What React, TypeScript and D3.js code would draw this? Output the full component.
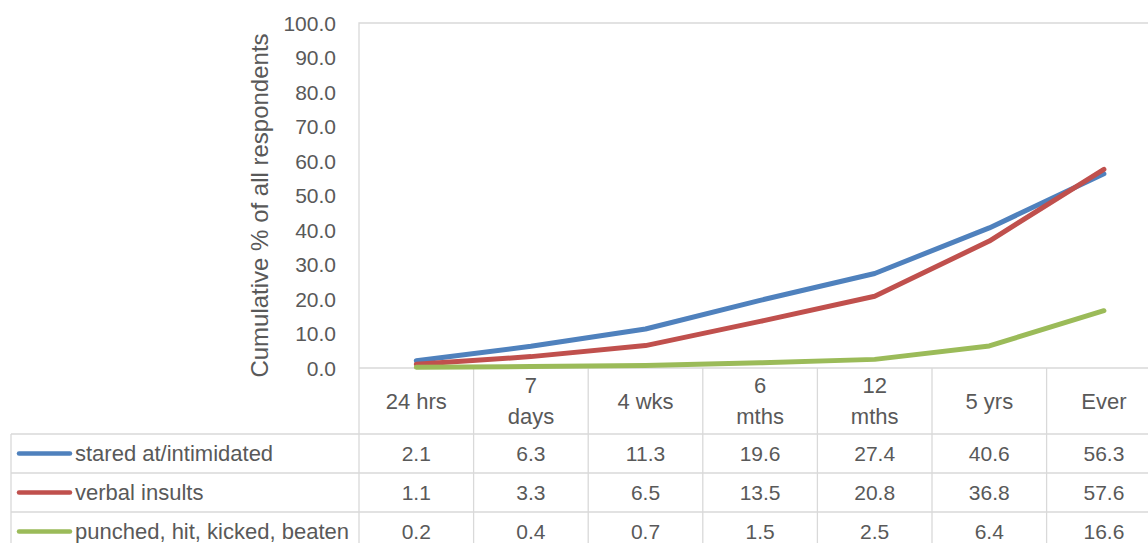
import { useEffect, useRef } from 'react';
import * as d3 from 'd3';

const categories = ['24 hrs', '7\ndays', '4 wks', '6\nmths', '12\nmths', '5 yrs', 'Ever'];
const seriesNames = ['stared at/intimidated', 'verbal insults', 'punched, hit, kicked, beaten'];
const stared = [2.1, 6.3, 11.3, 19.6, 27.4, 40.6, 56.3];
const verbal = [1.1, 3.3, 6.5, 13.5, 20.8, 36.8, 57.6];
const punched = [0.2, 0.4, 0.7, 1.5, 2.5, 6.4, 16.6];
const yTicks = [0, 10, 20, 30, 40, 50, 60, 70, 80, 90, 100];
const colors = ['#4F81BD', '#C0504D', '#9BBB59'];

const W = 1148;
const H = 543;
const FONT = '"Liberation Sans", Arial, sans-serif';
const TEXT = '#595959';
const GRID = '#D9D9D9';

export default function App() {
  const svgRef = useRef<SVGSVGElement>(null);

  useEffect(() => {
    if (!svgRef.current) return;
    const svg = d3.select(svgRef.current);
    svg.selectAll('*').remove();

    const plotLeft = 359;
    const plotTop = 23;
    const plotBottom = 368;
    const colW = 114.6;
    const tableLeft = 11;
    const rowTops = [434, 473, 512, 551];
    const values = [stared, verbal, punched];

    const x = d3.scaleBand<string>()
      .domain(categories)
      .range([plotLeft, plotLeft + colW * categories.length]);
    const y = d3.scaleLinear().domain([0, 100]).range([plotBottom, plotTop]);
    const cx = (c: string) => (x(c) ?? 0) + x.bandwidth() / 2;

    // plot area border
    svg.append('path')
      .attr('d', `M${plotLeft},${rowTops[3]}V${plotTop}H${W + 20}`)
      .attr('fill', 'none')
      .attr('stroke', GRID)
      .attr('stroke-width', 1.3);

    // category axis / table grid
    svg.append('line')
      .attr('x1', plotLeft).attr('x2', W + 20)
      .attr('y1', plotBottom).attr('y2', plotBottom)
      .attr('stroke', GRID).attr('stroke-width', 1.3);
    rowTops.slice(0, 3).forEach(t => {
      svg.append('line')
        .attr('x1', tableLeft).attr('x2', W + 20)
        .attr('y1', t).attr('y2', t)
        .attr('stroke', GRID).attr('stroke-width', 1.3);
    });
    svg.append('line')
      .attr('x1', tableLeft).attr('x2', tableLeft)
      .attr('y1', rowTops[0]).attr('y2', rowTops[3])
      .attr('stroke', GRID).attr('stroke-width', 1.3);
    categories.forEach(c => {
      const xr = (x(c) ?? 0) + x.bandwidth();
      svg.append('line')
        .attr('x1', xr).attr('x2', xr)
        .attr('y1', plotBottom).attr('y2', rowTops[3])
        .attr('stroke', GRID).attr('stroke-width', 1.3);
    });

    // y axis labels
    yTicks.forEach(t => {
      svg.append('text')
        .attr('x', 336)
        .attr('y', y(t))
        .attr('text-anchor', 'end')
        .attr('dominant-baseline', 'central')
        .attr('fill', TEXT)
        .attr('font-family', FONT)
        .attr('font-size', 21)
        .text(d3.format('.1f')(t));
    });

    // y axis title
    svg.append('text')
      .attr('transform', `translate(259,${(plotTop + plotBottom) / 2 + 10}) rotate(-90)`)
      .attr('text-anchor', 'middle')
      .attr('dominant-baseline', 'central')
      .attr('fill', TEXT)
      .attr('font-family', FONT)
      .attr('font-size', 24)
      .text('Cumulative % of all respondents');

    // header labels
    categories.forEach(c => {
      const lines = c.split('\n');
      const mid = (plotBottom + rowTops[0]) / 2;
      lines.forEach((ln, i) => {
        svg.append('text')
          .attr('x', cx(c))
          .attr('y', mid + (i - (lines.length - 1) / 2) * 31)
          .attr('text-anchor', 'middle')
          .attr('dominant-baseline', 'central')
          .attr('fill', TEXT)
          .attr('font-family', FONT)
          .attr('font-size', 22)
          .text(ln);
      });
    });

    // table rows
    values.forEach((vals, si) => {
      const mid = (rowTops[si] + rowTops[si + 1]) / 2;
      svg.append('line')
        .attr('x1', 19).attr('x2', 70)
        .attr('y1', mid).attr('y2', mid)
        .attr('stroke', colors[si])
        .attr('stroke-width', 4.5)
        .attr('stroke-linecap', 'round');
      svg.append('text')
        .attr('x', 75)
        .attr('y', mid)
        .attr('dominant-baseline', 'central')
        .attr('fill', TEXT)
        .attr('font-family', FONT)
        .attr('font-size', 22)
        .text(seriesNames[si]);
      vals.forEach((v, i) => {
        svg.append('text')
          .attr('x', cx(categories[i]))
          .attr('y', mid)
          .attr('text-anchor', 'middle')
          .attr('dominant-baseline', 'central')
          .attr('fill', TEXT)
          .attr('font-family', FONT)
          .attr('font-size', 21)
          .text(d3.format('.1f')(v));
      });
    });

    // lines
    const line = d3.line<number>()
      .x((_, i) => cx(categories[i]))
      .y(d => y(d));
    values.forEach((vals, si) => {
      svg.append('path')
        .datum(vals)
        .attr('d', line)
        .attr('fill', 'none')
        .attr('stroke', colors[si])
        .attr('stroke-width', 5)
        .attr('stroke-linecap', 'round')
        .attr('stroke-linejoin', 'round');
    });
  }, []);

  return (
    <svg
      ref={svgRef}
      width={W}
      height={H}
      style={{ position: 'absolute', left: 0, top: 0, background: '#fff' }}
    />
  );
}
